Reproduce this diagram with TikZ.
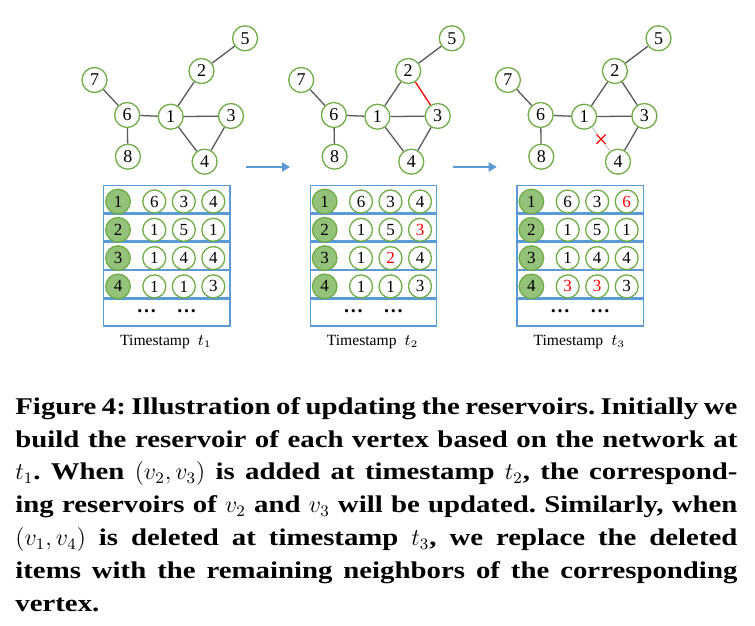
\documentclass[tikz,border=0pt]{standalone}
\usepackage{fontspec}
\setmainfont{Liberation Serif}
\newfontfamily\capfont[FakeStretch=1.2]{Liberation Serif}
\usepackage{tikz}
\usetikzlibrary{arrows.meta,positioning,shapes.misc}
\definecolor{gcol}{HTML}{70AD47}
\definecolor{gfill}{HTML}{94C27A}
\definecolor{bcol}{HTML}{5B9BD5}
\definecolor{ecol}{HTML}{595959}
\definecolor{dcol}{HTML}{D0D0D0}
\newcommand{\rd}[1]{\textcolor{red}{#1}}

\begin{document}
\begin{tikzpicture}[x=0.5pt,y=-0.5pt,
  vnode/.style={circle,draw=gcol,line width=0.65pt,fill=white,minimum size=12.5pt,
                inner sep=0pt,font=\fontsize{9}{9}\selectfont},
  rnode/.style={vnode,minimum size=11.5pt,font=\fontsize{8.5}{8.5}\selectfont},
  knode/.style={rnode,fill=gfill,minimum size=12.3pt},
  rowbox/.style={draw=bcol,line width=0.7pt,minimum width=63.05pt,minimum height=13.45pt,
                 inner sep=0pt},
  dotx/.style={font=\fontsize{10}{10}\selectfont\bfseries,inner sep=0pt},
  edg/.style={draw=ecol,line width=0.65pt},
  newedg/.style={draw=red,line width=0.65pt},
  deledg/.style={draw=dcol,line width=0.65pt},
  xmark/.style={cross out,draw=red,line width=0.6pt,minimum size=4pt,inner sep=0pt},
  arr/.style={-{Triangle[length=4pt,width=4.5pt]},draw=bcol,line width=1.4pt}
]
  \useasboundingbox (0,0) rectangle (755,626);

  \foreach \k in {1,2,3}{
    \begin{scope}[xshift={(\k-1)*103.35pt}]
      \foreach \n/\x/\y in {1/170.7/116.7,2/201.5/71,3/231/116,4/204.6/161.7,
                            5/245.1/38.3,6/127.2/115,7/94.5/80,8/127.9/156.7}
        \node[vnode] (g\k-\n) at (\x,\y) {\n};
      \foreach \a/\b in {5/2,2/1,7/6,6/1,6/8,1/3,3/4}
        \draw[edg] (g\k-\a) -- (g\k-\b);
      \node[rowbox] (r\k-1) at (166.75,199.15) {};
      \foreach \r [remember=\r as \q (initially 1)] in {2,...,5}
        \node[rowbox,below=0pt of r\k-\q] (r\k-\r) {};
      \foreach \r in {1,...,4}
        \node[knode] (k\k-\r) at (118,{\r*28.3+173.2}) {\r};
      \node[dotx] (d\k-1) at (146.7,311) {\dots};
      \node[dotx] (d\k-2) at (186.7,311) {\dots};
      \node[font=\fontsize{7.8}{8}\selectfont] (ts\k) at (166,342)
        {Timestamp\hspace{4pt}$t_{\k}$};
      \ifnum\k<3
        \coordinate (a\k) at (246,167);
        \coordinate (b\k) at (290,167);
        \draw[arr] (a\k) -- (b\k);
      \fi
    \end{scope}
  }

  \draw[edg] (g1-1) -- (g1-4);
  \draw[edg] (g2-1) -- (g2-4);
  \draw[newedg] (g2-2) -- (g2-3);
  \draw[edg] (g3-2) -- (g3-3);
  \draw[deledg] (g3-1) -- node[xmark] (x3) {} (g3-4);

  \foreach \r/\a/\b/\c in {1/6/3/4,2/1/5/1,3/1/4/4,4/1/1/3}{
    \node[rnode] (c1-\r-1) at (154.3,{\r*28.3+173.2}) {\a};
    \node[rnode] (c1-\r-2) at (183.8,{\r*28.3+173.2}) {\b};
    \node[rnode] (c1-\r-3) at (213.3,{\r*28.3+173.2}) {\c};
  }
  \begin{scope}[xshift=103.35pt]
  \foreach \r/\a/\b/\c in {1/6/3/4,2/1/5/\rd{3},3/1/\rd{2}/4,4/1/1/3}{
    \node[rnode] (c2-\r-1) at (154.3,{\r*28.3+173.2}) {\a};
    \node[rnode] (c2-\r-2) at (183.8,{\r*28.3+173.2}) {\b};
    \node[rnode] (c2-\r-3) at (213.3,{\r*28.3+173.2}) {\c};
  }
  \end{scope}
  \begin{scope}[xshift=206.7pt]
  \foreach \r/\a/\b/\c in {1/6/3/\rd{6},2/1/5/1,3/1/4/4,4/\rd{3}/\rd{3}/3}{
    \node[rnode] (c3-\r-1) at (154.3,{\r*28.3+173.2}) {\a};
    \node[rnode] (c3-\r-2) at (183.8,{\r*28.3+173.2}) {\b};
    \node[rnode] (c3-\r-3) at (213.3,{\r*28.3+173.2}) {\c};
  }
  \end{scope}

  \node[anchor=north west,text width=361pt,align=justify,inner sep=0pt,
        font=\capfont\bfseries\fontsize{12}{16.4}\selectfont] (cap) at (15,397)
    {\frenchspacing\hyphenpenalty=10000 Figure 4: Illustration of updating the reservoirs. Initially we\linebreak
     build the reservoir of each vertex based on the network at\linebreak
     $t_1$. When $(v_2,v_3)$ is added at timestamp $t_2$, the correspond-\linebreak
     ing reservoirs of $v_2$ and $v_3$ will be updated. Similarly, when\linebreak
     $(v_1,v_4)$ is deleted at timestamp $t_3$, we replace the deleted\linebreak
     items with the remaining neighbors of the corresponding\linebreak
     vertex.};
\end{tikzpicture}
\end{document}
